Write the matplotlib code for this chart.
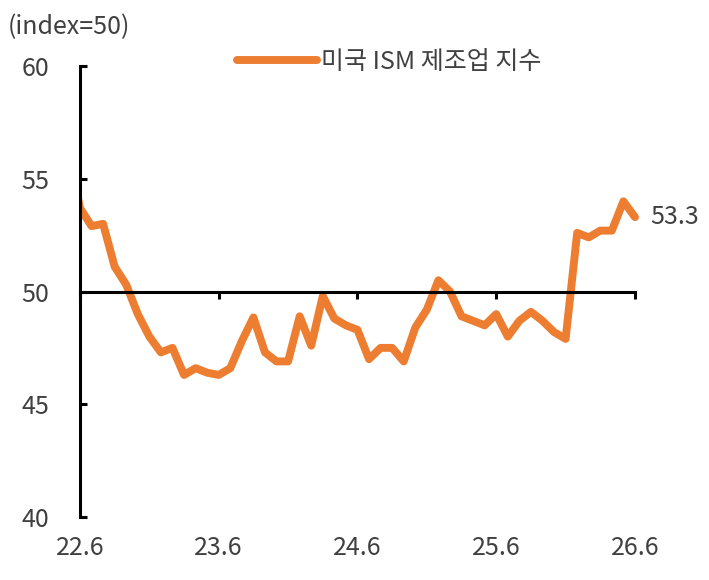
"""미국 ISM 제조업 지수 line chart (index=50 baseline)."""

import matplotlib
matplotlib.use("Agg")
import matplotlib.pyplot as plt
import numpy as np
from matplotlib.transforms import Bbox, TransformedBbox

# Monthly values, 22.5 .. 26.6 (22.5 sits just left of the axis and is clipped)
ism_values = [
    56.3,                                                    # 22.5
    53.7, 52.9, 53.0, 51.1, 50.3, 49.0, 48.0,                # 22.6 - 22.12
    47.3, 47.5, 46.3, 46.6, 46.4, 46.3, 46.6, 47.8, 48.85, 47.3, 46.9, 46.9,  # 23
    48.9, 47.6, 49.8, 48.8, 48.5, 48.3, 47.0, 47.5, 47.5, 46.9, 48.4, 49.2,   # 24
    50.5, 50.0, 48.9, 48.7, 48.5, 49.0, 48.0, 48.7, 49.1, 48.7, 48.2, 47.9,   # 25
    52.6, 52.4, 52.7, 52.7, 54.0, 53.3,                      # 26.1 - 26.6
]
first_month_offset = -1  # months relative to 22.6

tick_labels = ["22.6", "23.6", "24.6", "25.6", "26.6"]
tick_months = [0, 12, 24, 36, 48]
y_ticks = [40, 45, 50, 55, 60]

series_label = "미국 ISM 제조업 지수"
unit_label = "(index=50)"
last_label = "53.3"

ORANGE = "#ED7D31"
TEXT = "#404040"
FONT = ["Noto Sans CJK KR", "DejaVu Sans"]

plt.rcParams["font.family"] = FONT
plt.rcParams["font.size"] = 18
plt.rcParams["font.weight"] = "light"

fig = plt.figure(figsize=(7.09, 5.8), dpi=100)
ax = fig.add_axes([0.1128, 0.1086, 0.7828, 0.7776])

x = np.arange(len(ism_values)) + first_month_offset
(line,) = ax.plot(
    x, ism_values, color=ORANGE, linewidth=5.7,
    solid_joinstyle="round", solid_capstyle="round", label=series_label,
)
# clip only on the left so the line ends with a round cap on the right
line.set_clip_box(TransformedBbox(Bbox([[0, -0.1], [1.05, 1.1]]), ax.transAxes))

ax.set_xlim(tick_months[0], tick_months[-1])
ax.set_ylim(y_ticks[0], y_ticks[-1])

for side in ["top", "right"]:
    ax.spines[side].set_visible(False)
ax.spines["left"].set_linewidth(2.2)
ax.spines["bottom"].set_linewidth(2.2)
ax.spines["bottom"].set_position(("data", 50))

ax.set_yticks(y_ticks)
ax.set_yticklabels([str(v) for v in y_ticks])
ax.tick_params(axis="y", direction="in", length=5, width=2.2, pad=22,
               labelcolor=TEXT, labelsize=18)

ax.set_xticks(tick_months)
ax.set_xticklabels(tick_labels)
ax.tick_params(axis="x", direction="out", length=5, width=2.2, pad=170,
               labelcolor=TEXT, labelsize=18)

ax.annotate(last_label, xy=(x[-1], ism_values[-1]), xytext=(11, 0),
            textcoords="offset points", va="center", ha="left",
            color=TEXT, fontsize=18)

fig.text(0.011, 0.953, unit_label, ha="left", va="center", color=TEXT, fontsize=18)

ax.legend(loc="center left", bbox_to_anchor=(0.334, 0.893),
          bbox_transform=fig.transFigure, frameon=False, fontsize=18,
          handlelength=3.2, handletextpad=0.15, borderpad=0, borderaxespad=0,
          labelcolor=TEXT)

fig.savefig("out.png", dpi=100)
